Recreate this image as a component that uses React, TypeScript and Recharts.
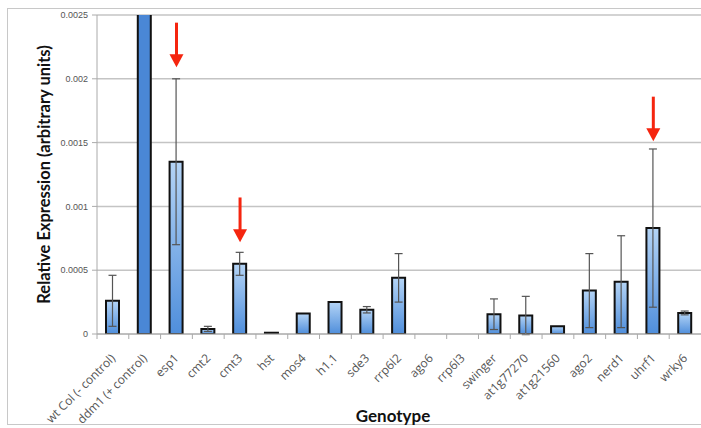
import React from "react";
import {
  BarChart,
  Bar,
  Cell,
  XAxis,
  YAxis,
  CartesianGrid,
  ErrorBar,
  ReferenceLine,
} from "recharts";

const genotypes = [
  "wt Col (- control)",
  "ddm1 (+ control)",
  "esp1",
  "cmt2",
  "cmt3",
  "hst",
  "mos4",
  "h1.1",
  "sde3",
  "rrp6l2",
  "ago6",
  "rrp6l3",
  "swinger",
  "at1g77270",
  "at1g21560",
  "ago2",
  "nerd1",
  "uhrf1",
  "wrky6",
];

const expression = [
  0.00026, 0.006, 0.00135, 0.00004, 0.00055, 0.00001, 0.00016, 0.00025,
  0.00019, 0.00044, 0, 0, 0.000155, 0.000145, 0.00006, 0.00034, 0.00041,
  0.00083, 0.000165,
];

const errors = [
  0.0002, null, 0.00065, 0.00002, 0.00009, null, null, null, 0.000025,
  0.00019, null, null, 0.00012, 0.00015, null, 0.00029, 0.00036, 0.00062,
  0.000015,
];

const yTicks = [0, 0.0005, 0.001, 0.0015, 0.002, 0.0025];

// red arrows: genotype, start value, tip value
const arrows = [
  { name: "esp1", from: 0.00244, to: 0.00209 },
  { name: "cmt3", from: 0.00107, to: 0.00072 },
  { name: "uhrf1", from: 0.00186, to: 0.00151 },
];

const data = genotypes.map((name, i) => ({
  name,
  value: expression[i],
  err: errors[i],
}));

const W = 701;
const H = 428;
const LEFT = 97;
const BAND = (W - LEFT) / genotypes.length;

function GenotypeTick(props: any) {
  const { x, y, payload } = props;
  const half = payload && payload.offset ? payload.offset : BAND / 2;
  const tx = x + 3;
  const ty = y + 25;
  return (
    <g>
      <line x1={x - half} y1={y} x2={x - half} y2={y + 5} stroke="#aaa" />
      <text
        x={tx}
        y={ty}
        textAnchor="end"
        fontSize={12}
        fill="#555"
        fontFamily="'Open Sans', sans-serif"
        transform={`rotate(-45 ${tx} ${ty})`}
      >
        {payload.value}
      </text>
    </g>
  );
}

function Arrow(props: any) {
  const { x1, y1, x2, y2 } = props;
  const head = 13;
  return (
    <g>
      <line x1={x1} y1={y1} x2={x2} y2={y2 - head + 1} stroke="#f5250f" strokeWidth={3} />
      <polygon
        points={`${x2 - 7},${y2 - head} ${x2 + 7},${y2 - head} ${x2},${y2}`}
        fill="#f5250f"
      />
    </g>
  );
}

export default function App() {
  return (
    <div style={{ position: "absolute", left: 0, top: 0, width: W, height: H, overflow: "hidden", background: "#fff" }}>
      <div
        style={{
          position: "absolute",
          left: 7,
          top: 8,
          width: 720,
          height: 415,
          border: "1px solid #c8c8c8",
        }}
      />
      <BarChart
        width={W}
        height={H}
        data={data}
        margin={{ top: 15, right: 0, left: 0, bottom: 0 }}
        barCategoryGap={0}
      >
        <defs>
          <linearGradient id="barFill" x1="0" y1="0" x2="0" y2="1">
            <stop offset="0%" stopColor="#b4d4f6" />
            <stop offset="100%" stopColor="#4f8edb" />
          </linearGradient>
        </defs>
        <CartesianGrid vertical={false} stroke="#c4c4c4" strokeWidth={1.5} />
        <XAxis
          dataKey="name"
          interval={0}
          height={94}
          axisLine={{ stroke: "#aaa" }}
          tickLine={false}
          tickSize={0}
          tickMargin={0}
          tick={<GenotypeTick />}
          label={{
            value: "Genotype",
            position: "insideBottom",
            offset: 6,
            dx: -6,
            style: { fontFamily: "Lato, sans-serif", fontWeight: 700, fontSize: 17, fill: "#111" },
          }}
        />
        <YAxis
          width={LEFT}
          domain={[0, 0.0025]}
          ticks={yTicks}
          allowDataOverflow
          interval={0}
          axisLine={{ stroke: "#aaa" }}
          tickLine={{ stroke: "#aaa" }}
          tickSize={5}
          tickMargin={4}
          tickFormatter={(v: number) => String(v)}
          tick={{ fontSize: 9, fill: "#555", fontFamily: "'Liberation Sans', Arial, sans-serif" }}
          label={{
            value: "Relative Expression (arbitrary units)",
            angle: -90,
            position: "center",
            dx: -4,
            style: { fontFamily: "Lato, sans-serif", fontWeight: 700, fontSize: 16.5, fill: "#111" },
          }}
        />
        <Bar
          dataKey="value"
          barSize={13}
          stroke="#111"
          strokeWidth={2}
          isAnimationActive={false}
        >
          {data.map((d) => (
            <Cell
              key={d.name}
              fill={d.name.startsWith("ddm1") ? "#4a87d6" : "url(#barFill)"}
            />
          ))}
          <ErrorBar dataKey="err" width={4} stroke="#555" strokeWidth={1.2} direction="y" />
        </Bar>
        {arrows.map((a) => (
          <ReferenceLine
            key={a.name}
            segment={[
              { x: a.name, y: a.from },
              { x: a.name, y: a.to },
            ]}
            shape={<Arrow />}
            ifOverflow="visible"
          />
        ))}
      </BarChart>
    </div>
  );
}
